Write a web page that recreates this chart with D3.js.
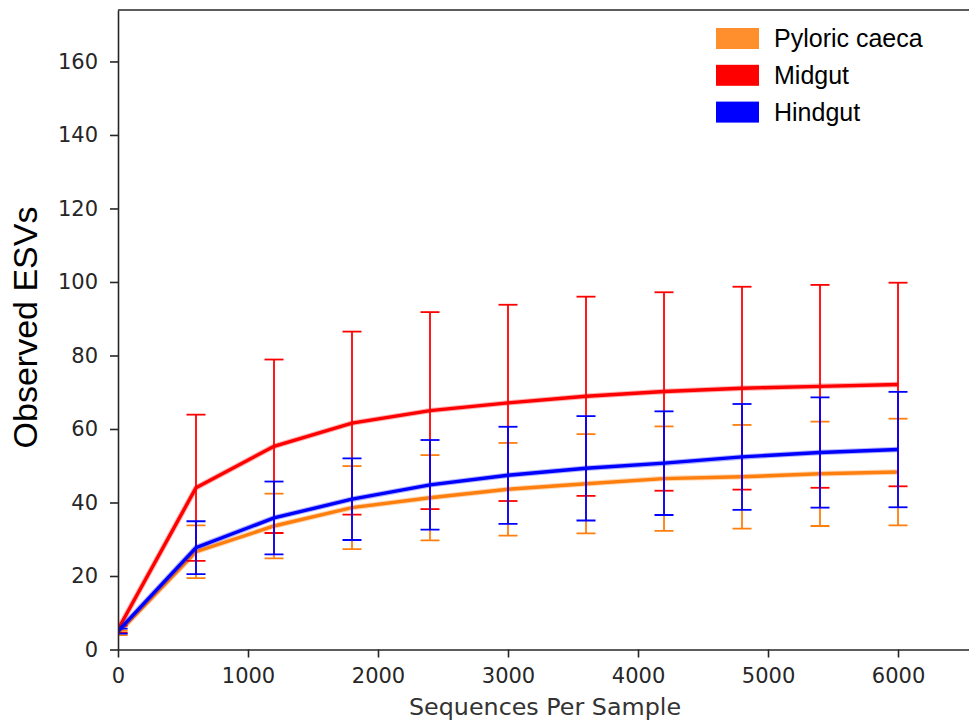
<!DOCTYPE html>
<html>
<head>
<meta charset="utf-8">
<script src="https://cdn.jsdelivr.net/npm/d3@7"></script>
<style>
	body { margin: 0; background: #fff; }
	.tick text { font-family: "DejaVu Sans", sans-serif; font-size: 21px; fill: #262626; }
	.tick line, .domain { stroke: #262626; stroke-width: 1.6px; }
</style>
</head>
<body>
<div id="chart"></div>
<script>
// rarefaction curve, observed ESVs per gut section

const depths = [1, 600, 1200, 1800, 2400, 3000, 3600, 4200, 4800, 5400, 6000];

const seriesNames = ["Pyloric caeca", "Midgut", "Hindgut"];
const lineColors = ["#ff7f0e", "#ff0000", "#0000ff"];
const patchColors = ["#ff8f2c", "#ff0000", "#0000ff"];

// mean values
const pyloricMean = [4.5, 26.6, 33.6, 38.6, 41.3, 43.6, 45.1, 46.5, 47.0, 47.8, 48.3];
const midgutMean = [5.5, 44.0, 55.3, 61.6, 65.0, 67.1, 68.9, 70.2, 71.1, 71.6, 72.1];
const hindgutMean = [5.0, 27.7, 35.8, 40.9, 44.8, 47.4, 49.3, 50.7, 52.4, 53.6, 54.4];

// standard deviations (error bar half height)
const pyloricSd = [0.6, 7.2, 8.8, 11.3, 11.6, 12.6, 13.5, 14.2, 14.1, 14.2, 14.5];
const midgutSd = [1.0, 19.9, 23.6, 24.9, 26.8, 26.7, 27.1, 27.0, 27.6, 27.6, 27.7];
const hindgutSd = [0.7, 7.2, 9.9, 11.1, 12.2, 13.2, 14.2, 14.1, 14.4, 15.0, 15.7];

const xTicks = [0, 1000, 2000, 3000, 4000, 5000, 6000];
const yTicks = [0, 20, 40, 60, 80, 100, 120, 140, 160];

(function(){

	let svgWidth = 969;
	let svgHeight = 727;

	let margin = { top: 10, left: 118 };
	let width = svgWidth - margin.left;
	let height = 639.5;

	let svg = d3.select("#chart").append("svg")
		.attr("width", svgWidth)
		.attr("height", svgHeight);

	let chartGroup = svg.append("g").attr("transform", `translate(${margin.left}, ${margin.top})`);

	let xScale = d3.scaleLinear().domain([0, 6546]).range([0, width]);
	let yScale = d3.scaleLinear().domain([0, 174]).range([height, 0]);

	// clip marks to the axes box
	svg.append("defs").append("clipPath").attr("id", "plotClip")
		.append("rect").attr("x", 0).attr("y", 0).attr("width", width).attr("height", height);

	let marks = chartGroup.append("g").attr("clip-path", "url(#plotClip)");

	let allSeries = [
		{ mean: pyloricMean, sd: pyloricSd },
		{ mean: midgutMean, sd: midgutSd },
		{ mean: hindgutMean, sd: hindgutSd }
	];

	let line = d3.line()
		.x((d, i) => xScale(depths[i]))
		.y(d => yScale(d));

	let capHalf = 9.5;

	allSeries.forEach(function(s, k){
		let color = lineColors[k];
		let g = marks.append("g");

		// error bars
		depths.forEach(function(x, i){
			let cx = xScale(x);
			let top = yScale(s.mean[i] + s.sd[i]);
			let bottom = yScale(s.mean[i] - s.sd[i]);
			g.append("line")
				.attr("x1", cx).attr("x2", cx)
				.attr("y1", top).attr("y2", bottom)
				.attr("stroke", color).attr("stroke-width", 1.8);
			[top, bottom].forEach(function(cy){
				g.append("line")
					.attr("x1", cx - capHalf).attr("x2", cx + capHalf)
					.attr("y1", cy).attr("y2", cy)
					.attr("stroke", color).attr("stroke-width", 1.8);
			});
		});

		// soft halo then the mean line
		g.append("path")
			.datum(s.mean)
			.attr("d", line)
			.attr("fill", "none")
			.attr("stroke", color)
			.attr("stroke-opacity", 0.3)
			.attr("stroke-width", 5.5);
		g.append("path")
			.datum(s.mean)
			.attr("d", line)
			.attr("fill", "none")
			.attr("stroke", color)
			.attr("stroke-width", 3.4);
	});

	// axes
	chartGroup.append("g")
		.attr("transform", `translate(0, ${height})`)
		.call(d3.axisBottom(xScale).tickValues(xTicks).tickFormat(d3.format("d")).tickSize(8).tickSizeOuter(0).tickPadding(11));

	chartGroup.append("g")
		.call(d3.axisLeft(yScale).tickValues(yTicks).tickSize(8).tickSizeOuter(0).tickPadding(12));

	// top spine
	chartGroup.append("line")
		.attr("x1", 0).attr("x2", width)
		.attr("y1", 0).attr("y2", 0)
		.attr("stroke", "#262626").attr("stroke-width", 1.6);

	// axis titles
	svg.append("text")
		.attr("x", 545)
		.attr("y", 715)
		.attr("text-anchor", "middle")
		.attr("font-family", "DejaVu Sans, sans-serif")
		.attr("font-size", 23.8)
		.attr("fill", "#333")
		.text("Sequences Per Sample");

	svg.append("text")
		.attr("transform", "translate(37, 327.5) rotate(-90)")
		.attr("text-anchor", "middle")
		.attr("font-family", "Liberation Sans, Arial, sans-serif")
		.attr("font-size", 34)
		.attr("fill", "#000")
		.text("Observed ESVs");

	// legend
	let legend = svg.append("g").attr("transform", "translate(716, 28)");
	seriesNames.forEach(function(name, i){
		let row = legend.append("g").attr("transform", `translate(0, ${i * 36.8})`);
		row.append("rect")
			.attr("width", 43).attr("height", 21)
			.attr("fill", patchColors[i]);
		row.append("text")
			.attr("x", 58)
			.attr("y", 10.5)
			.attr("dy", "0.35em")
			.attr("font-family", "Liberation Sans, Arial, sans-serif")
			.attr("font-size", 25)
			.attr("fill", "#000")
			.text(name);
	});

})();
</script>
</body>
</html>
